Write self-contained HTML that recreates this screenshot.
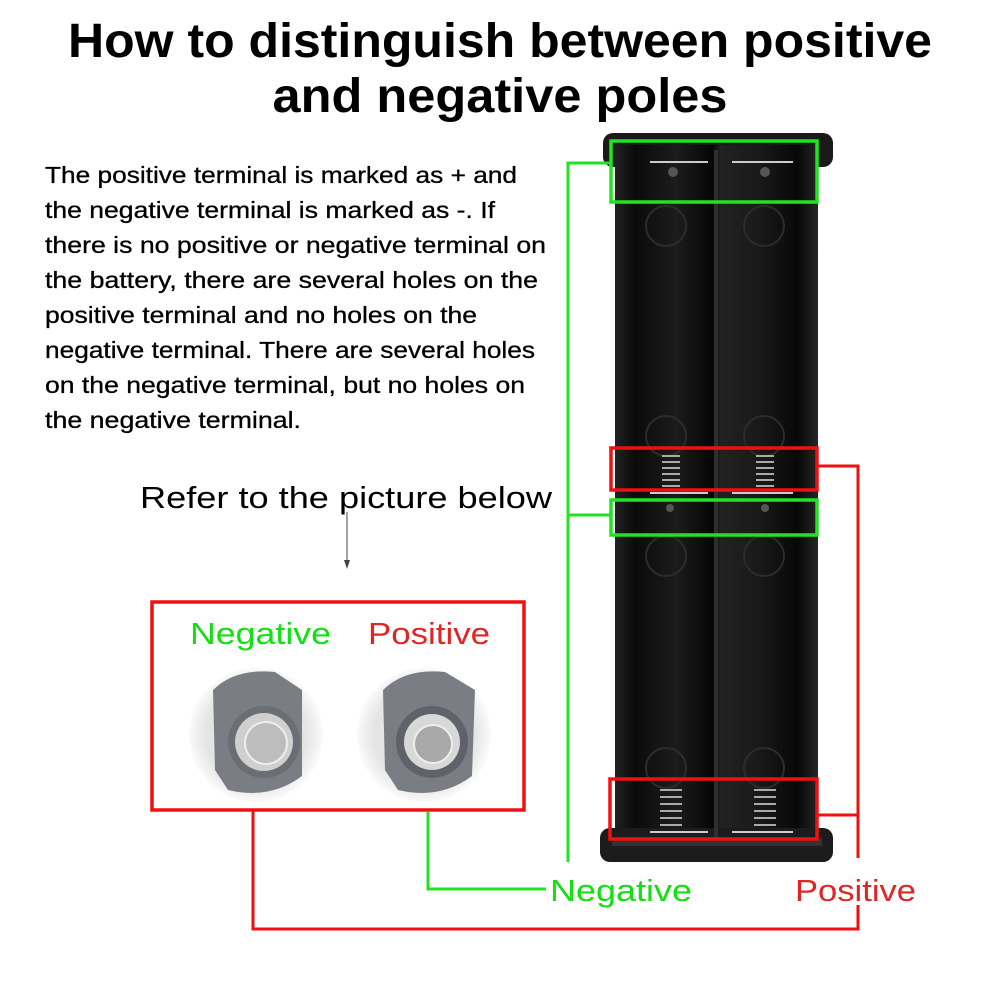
<!DOCTYPE html>
<html><head><meta charset="utf-8"><style>html,body{margin:0;padding:0;background:#fff}svg{display:block}</style></head>
<body>
<svg width="1000" height="1000" viewBox="0 0 1000 1000" xmlns="http://www.w3.org/2000/svg" font-family="Liberation Sans, sans-serif">
<defs>
<linearGradient id="body" x1="0" x2="1"><stop offset="0" stop-color="#222"/><stop offset="0.1" stop-color="#0b0b0b"/><stop offset="0.3" stop-color="#1c1c1c"/><stop offset="0.48" stop-color="#060606"/><stop offset="0.52" stop-color="#222"/><stop offset="0.7" stop-color="#1a1a1a"/><stop offset="0.9" stop-color="#080808"/><stop offset="1" stop-color="#262626"/></linearGradient>
<radialGradient id="sh"><stop offset="0.75" stop-color="#e4e4e4"/><stop offset="1" stop-color="#fafafa"/></radialGradient>
</defs>
<text x="500" y="57" font-size="48" font-weight="bold" text-anchor="middle" textLength="864" lengthAdjust="spacingAndGlyphs">How to distinguish between positive</text>
<text x="500" y="112" font-size="48" font-weight="bold" text-anchor="middle" textLength="455" lengthAdjust="spacingAndGlyphs">and negative poles</text>
<g font-size="23" fill="#000" stroke="#000" stroke-width="0.3">
<text x="45" y="183" textLength="472" lengthAdjust="spacingAndGlyphs">The positive terminal is marked as + and</text>
<text x="45" y="218" textLength="450" lengthAdjust="spacingAndGlyphs">the negative terminal is marked as -. If</text>
<text x="45" y="253" textLength="501" lengthAdjust="spacingAndGlyphs">there is no positive or negative terminal on</text>
<text x="45" y="288" textLength="493" lengthAdjust="spacingAndGlyphs">the battery, there are several holes on the</text>
<text x="45" y="323" textLength="432" lengthAdjust="spacingAndGlyphs">positive terminal and no holes on the</text>
<text x="45" y="358" textLength="490" lengthAdjust="spacingAndGlyphs">negative terminal. There are several holes</text>
<text x="45" y="393" textLength="480" lengthAdjust="spacingAndGlyphs">on the negative terminal, but no holes on</text>
<text x="45" y="428" textLength="256" lengthAdjust="spacingAndGlyphs">the negative terminal.</text>
</g>
<text x="140" y="508" font-size="31" textLength="412" lengthAdjust="spacingAndGlyphs">Refer to the picture below</text>
<line x1="347" y1="512" x2="347" y2="562" stroke="#444" stroke-width="1"/>
<path d="M344,560 L347,569 L350,560 Z" fill="#444"/>
<rect x="603" y="133" width="230" height="34" rx="10" fill="#1a1a1a"/>
<rect x="615" y="145" width="203" height="700" fill="url(#body)"/>
<rect x="600" y="828" width="233" height="34" rx="10" fill="#1c1c1c"/>
<rect x="612" y="838" width="210" height="8" fill="#333"/>
<line x1="716" y1="150" x2="716" y2="840" stroke="#2e2e2e" stroke-width="4"/>
<g fill="none" stroke="#2c2c2c" stroke-width="2">
<circle cx="666" cy="226" r="20"/><circle cx="764" cy="226" r="20"/>
<circle cx="666" cy="436" r="20"/><circle cx="764" cy="436" r="20"/>
<circle cx="666" cy="556" r="20"/><circle cx="764" cy="556" r="20"/>
<circle cx="666" cy="768" r="20"/><circle cx="764" cy="768" r="20"/>
</g>
<g fill="#555"><circle cx="673" cy="172" r="5"/><circle cx="765" cy="172" r="5"/><circle cx="670" cy="508" r="4"/><circle cx="765" cy="508" r="4"/></g>
<g stroke="#ccc" stroke-width="2"><line x1="650" y1="162" x2="708" y2="162"/><line x1="732" y1="162" x2="793" y2="162"/><line x1="650" y1="493" x2="708" y2="493"/><line x1="732" y1="493" x2="793" y2="493"/><line x1="650" y1="832" x2="708" y2="832"/><line x1="732" y1="832" x2="793" y2="832"/></g>
<g stroke="#aaa" stroke-width="2">
<line x1="662" y1="456" x2="680" y2="456"/><line x1="662" y1="462" x2="680" y2="462"/><line x1="662" y1="468" x2="680" y2="468"/><line x1="662" y1="474" x2="680" y2="474"/><line x1="662" y1="480" x2="680" y2="480"/><line x1="662" y1="486" x2="680" y2="486"/>
<line x1="756" y1="456" x2="774" y2="456"/><line x1="756" y1="462" x2="774" y2="462"/><line x1="756" y1="468" x2="774" y2="468"/><line x1="756" y1="474" x2="774" y2="474"/><line x1="756" y1="480" x2="774" y2="480"/><line x1="756" y1="486" x2="774" y2="486"/>
<line x1="660" y1="790" x2="682" y2="790"/><line x1="660" y1="797" x2="682" y2="797"/><line x1="660" y1="804" x2="682" y2="804"/><line x1="660" y1="811" x2="682" y2="811"/><line x1="660" y1="818" x2="682" y2="818"/><line x1="660" y1="825" x2="682" y2="825"/>
<line x1="754" y1="790" x2="776" y2="790"/><line x1="754" y1="797" x2="776" y2="797"/><line x1="754" y1="804" x2="776" y2="804"/><line x1="754" y1="811" x2="776" y2="811"/><line x1="754" y1="818" x2="776" y2="818"/><line x1="754" y1="825" x2="776" y2="825"/>
</g>
<g fill="none" stroke-width="3.5">
<rect x="611" y="141" width="206" height="61" stroke="#22e322"/>
<rect x="611" y="500" width="206" height="35" stroke="#22e322"/>
<rect x="611" y="448" width="206" height="42" stroke="#f01010"/>
<rect x="610" y="779" width="207" height="60" stroke="#f01010"/>
<rect x="152" y="602" width="372" height="208" stroke="#f01010"/>
</g>
<g fill="none" stroke="#22e322" stroke-width="3">
<polyline points="611,163 568,163 568,862"/>
<line x1="568" y1="515" x2="611" y2="515"/>
<polyline points="428,812 428,889 546,889"/>
</g>
<g fill="none" stroke="#f01010" stroke-width="3">
<polyline points="817,466 858,466 858,858"/>
<line x1="817" y1="815" x2="858" y2="815"/>
<polyline points="253,810 253,929 858,929 858,905"/>
</g>
<text x="550" y="901" font-size="31" fill="#11e011" textLength="142" lengthAdjust="spacingAndGlyphs">Negative</text>
<text x="795" y="901" font-size="31" fill="#e02525" textLength="121" lengthAdjust="spacingAndGlyphs">Positive</text>
<text x="190" y="644" font-size="31" fill="#11e011" textLength="141" lengthAdjust="spacingAndGlyphs">Negative</text>
<text x="368" y="644" font-size="31" fill="#e02525" textLength="122" lengthAdjust="spacingAndGlyphs">Positive</text>
<circle cx="256" cy="735" r="67" fill="url(#sh)"/>
<path d="M213,690 Q235,668 275,672 L302,690 L302,776 Q270,800 228,790 L215,770 Z" fill="#7a7d84"/>
<circle cx="264" cy="742" r="36" fill="#6b6e75"/>
<circle cx="264" cy="742" r="29" fill="#cfcfcf"/>
<circle cx="266" cy="743" r="21" fill="#bdbdbd" stroke="#eee" stroke-width="2"/>
<circle cx="424" cy="735" r="67" fill="url(#sh)"/>
<path d="M383,690 Q405,668 445,672 L475,690 L472,776 Q440,800 398,790 L385,770 Z" fill="#7a7d84"/>
<circle cx="432" cy="742" r="36" fill="#5f6269"/>
<circle cx="432" cy="742" r="28" fill="#d8d8d8"/>
<circle cx="433" cy="744" r="19" fill="#a9a9a9" stroke="#eee" stroke-width="2"/>
</svg>
</body></html>
